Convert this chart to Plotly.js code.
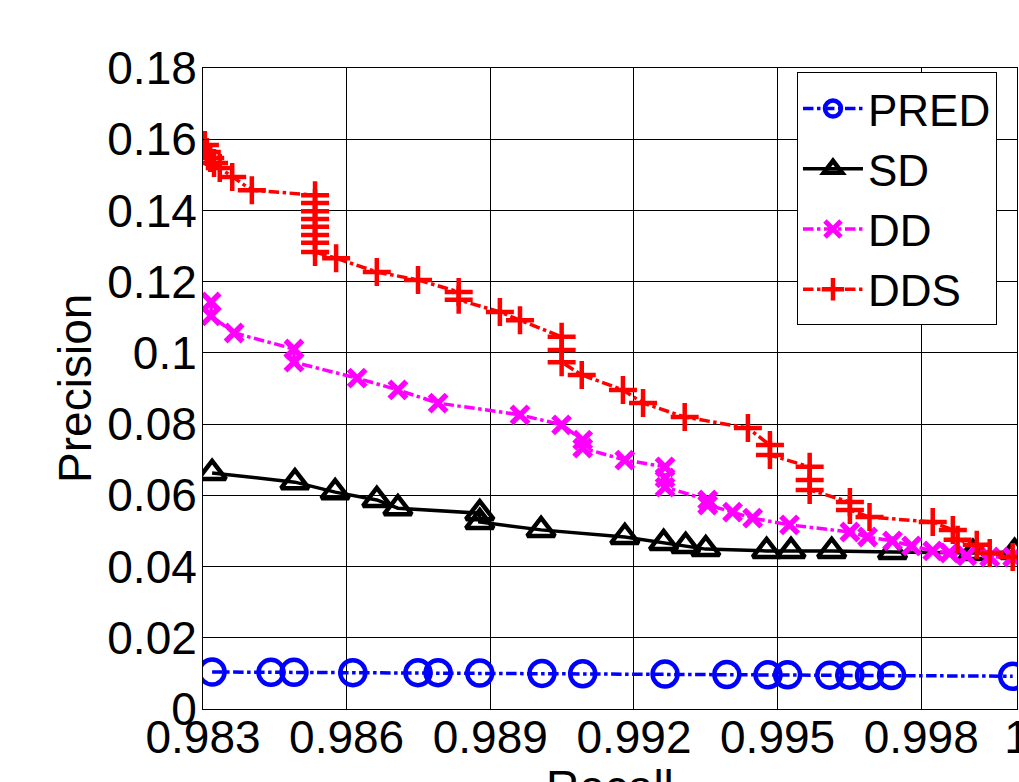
<!DOCTYPE html>
<html>
<head>
<meta charset="utf-8">
<script src="https://cdn.plot.ly/plotly-3.0.1.min.js"></script>
<style>html,body{margin:0;padding:0;background:#fff;}#chart{width:1019px;height:782px;}</style>
</head>
<body>
<div id="chart"></div>
<script>
// Series names
const seriesNames = ["PRED", "SD", "DD", "DDS"];

// PRED
const predRecall = [0.98319, 0.98442, 0.98490, 0.98613, 0.98749, 0.98791, 0.98878, 0.99008, 0.99093, 0.99265, 0.99394, 0.99480, 0.99521, 0.99609, 0.99651, 0.99692, 0.99738, 0.99991];
const predPrecision = [0.0104, 0.0103, 0.0103, 0.0102, 0.0102, 0.0102, 0.0101, 0.0100, 0.0099, 0.0098, 0.0097, 0.0096, 0.0096, 0.0095, 0.0095, 0.0094, 0.0094, 0.0092];

// SD
const sdRecall = [0.98319, 0.98492, 0.98576, 0.98663, 0.98707, 0.98878, 0.98878, 0.99006, 0.99181, 0.99262, 0.99308, 0.99350, 0.99477, 0.99528, 0.99613, 0.99740, 0.99908, 0.99995];
const sdPrecision = [0.0663, 0.0637, 0.0609, 0.0587, 0.0564, 0.0550, 0.0525, 0.0503, 0.0483, 0.0466, 0.0458, 0.0449, 0.0444, 0.0444, 0.0444, 0.0441, 0.0438, 0.0441];

// DD
const ddRecall = [0.98317, 0.98317, 0.98365, 0.98490, 0.98490, 0.98622, 0.98707, 0.98791, 0.98962, 0.99049, 0.99093, 0.99093, 0.99181, 0.99265, 0.99265, 0.99265, 0.99354, 0.99354, 0.99406, 0.99448, 0.99525, 0.99651, 0.99688, 0.99740, 0.99780, 0.99824, 0.99859, 0.99895, 0.99943, 0.99991];
const ddPrecision = [0.1143, 0.1104, 0.1056, 0.1011, 0.0974, 0.0929, 0.0896, 0.0859, 0.0826, 0.0798, 0.0755, 0.0733, 0.0699, 0.0680, 0.0649, 0.0623, 0.0587, 0.0573, 0.0553, 0.0536, 0.0517, 0.0497, 0.0483, 0.0472, 0.0458, 0.0444, 0.0438, 0.0430, 0.0427, 0.0427];

// DDS
const ddsRecall = [0.98304, 0.98308, 0.98315, 0.98323, 0.98335, 0.98361, 0.98402, 0.98534, 0.98534, 0.98534, 0.98534, 0.98534, 0.98534, 0.98534, 0.98534, 0.98578, 0.98663, 0.98749, 0.98834, 0.98834, 0.98920, 0.98962, 0.99049, 0.99049, 0.99049, 0.99091, 0.99177, 0.99219, 0.99306, 0.99438, 0.99484, 0.99484, 0.99567, 0.99567, 0.99567, 0.99651, 0.99651, 0.99692, 0.99824, 0.99866, 0.99876, 0.99916, 0.99943, 0.99991];
const ddsPrecision = [0.1584, 0.1564, 0.1547, 0.1533, 0.1519, 0.1494, 0.1457, 0.1443, 0.1421, 0.1398, 0.1376, 0.1354, 0.1331, 0.1309, 0.1283, 0.1266, 0.1227, 0.1205, 0.1171, 0.1149, 0.1115, 0.1092, 0.1045, 0.1008, 0.0974, 0.0938, 0.0896, 0.0859, 0.0820, 0.0789, 0.0741, 0.0713, 0.0680, 0.0643, 0.0615, 0.0581, 0.0559, 0.0539, 0.0525, 0.0503, 0.0475, 0.0461, 0.0438, 0.0427];

// Tick labels and axis titles
const xTickVals = [0.983, 0.986, 0.989, 0.992, 0.995, 0.998, 1.0];
const xTickText = ["0.983", "0.986", "0.989", "0.992", "0.995", "0.998", "1"];
const yTickVals = [0, 0.02, 0.04, 0.06, 0.08, 0.1, 0.12, 0.14, 0.16, 0.18];
const yTickText = ["0", "0.02", "0.04", "0.06", "0.08", "0.1", "0.12", "0.14", "0.16", "0.18"];
const xTitle = "Recall";
const yTitle = "Precision";

const FONT = "Liberation Sans, Arial, sans-serif";
const FS = 46;

const traces = [
  {x: predRecall, y: predPrecision, name: seriesNames[0], mode: "lines+markers",
   line: {color: "#0000ff", width: 3.5, dash: "dashdot"},
   marker: {symbol: "circle-open", size: 25, color: "#0000ff", line: {width: 4.5, color: "#0000ff"}}},
  {x: sdRecall, y: sdPrecision, name: seriesNames[1], mode: "lines+markers",
   line: {color: "#000000", width: 3.5},
   marker: {symbol: "triangle-up-open", size: 24, color: "#000000", line: {width: 4.5, color: "#000000"}}},
  {x: ddRecall, y: ddPrecision, name: seriesNames[2], mode: "lines+markers",
   line: {color: "#ff00ff", width: 3.5, dash: "dashdot"},
   marker: {symbol: "x-thin-open", size: 17, color: "#ff00ff", line: {width: 5.5, color: "#ff00ff"}}},
  {x: ddsRecall, y: ddsPrecision, name: seriesNames[3], mode: "lines+markers",
   line: {color: "#ff0000", width: 3.5, dash: "dashdot"},
   marker: {symbol: "cross-thin-open", size: 20, color: "#ff0000", line: {width: 4.5, color: "#ff0000"}}}
];

const layout = {
  width: 1019, height: 782,
  margin: {l: 203, r: 2, t: 68, b: 73, pad: 0},
  paper_bgcolor: "#ffffff", plot_bgcolor: "#ffffff",
  font: {family: FONT, size: FS, color: "#000000"},
  showlegend: true,
  legend: {x: 0.7297, y: 0.993, xanchor: "left", yanchor: "top",
           bgcolor: "#ffffff", bordercolor: "#000000", borderwidth: 1,
           font: {family: FONT, size: 44, color: "#000000"},
           itemwidth: 60, tracegroupgap: 0},
  xaxis: {range: [0.983, 1.0], tickvals: xTickVals, ticktext: xTickText,
          showgrid: true, gridcolor: "#000000", gridwidth: 1,
          showline: true, linecolor: "#000000", linewidth: 1, mirror: true,
          ticks: "inside", ticklen: 6, tickcolor: "#000000",
          zeroline: false, automargin: false,
          ticklabeloverflow: "allow", ticklabelstandoff: -12,
          tickfont: {family: FONT, size: FS}},
  yaxis: {range: [0, 0.18], tickvals: yTickVals, ticktext: yTickText,
          showgrid: true, gridcolor: "#000000", gridwidth: 1,
          showline: true, linecolor: "#000000", linewidth: 1, mirror: true,
          ticks: "inside", ticklen: 6, tickcolor: "#000000",
          zeroline: false, automargin: false,
          ticklabeloverflow: "allow", ticklabelstandoff: -4,
          tickfont: {family: FONT, size: FS}},
  annotations: [
    {text: xTitle, xref: "paper", yref: "paper", x: 0.5, y: -0.078,
     xanchor: "center", yanchor: "top", showarrow: false,
     font: {family: FONT, size: FS, color: "#000000"}},
    {text: yTitle, xref: "paper", yref: "paper", x: -0.158, y: 0.5,
     xanchor: "center", yanchor: "middle", textangle: -90, showarrow: false,
     font: {family: FONT, size: FS, color: "#000000"}}
  ]
};

Plotly.newPlot("chart", traces, layout, {displayModeBar: false, staticPlot: true});
</script>
</body>
</html>
